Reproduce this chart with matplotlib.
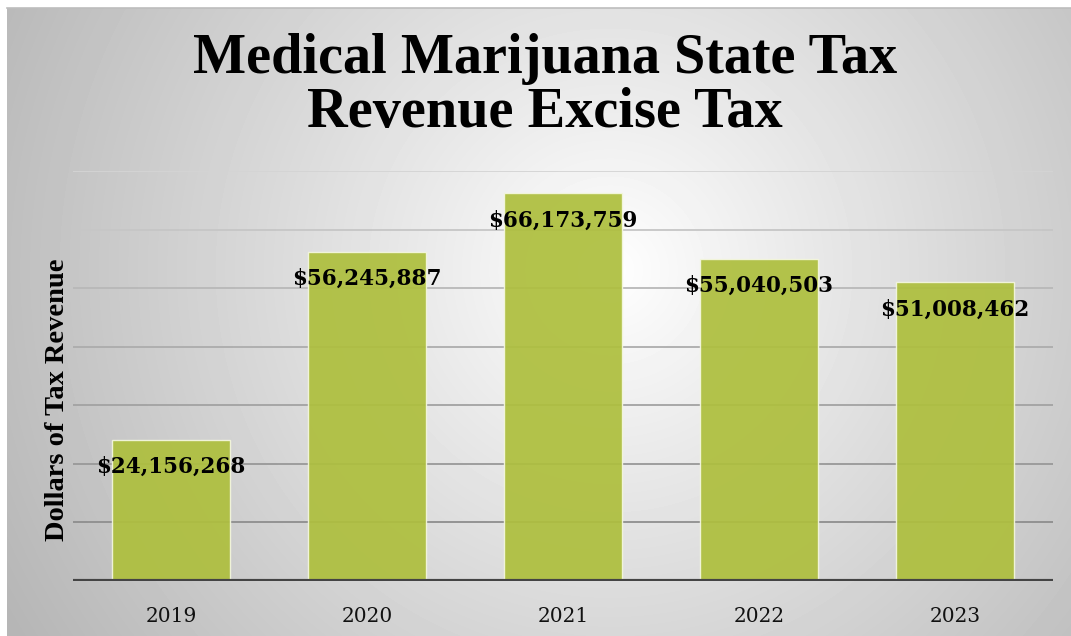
import numpy as np
import matplotlib
matplotlib.use("Agg")
import matplotlib.pyplot as plt

years = ["2019", "2020", "2021", "2022", "2023"]
revenue = [24156268, 56245887, 66173759, 55040503, 51008462]
grid_values = [10e6, 20e6, 30e6, 40e6, 50e6, 60e6, 70e6]

W, H = 1071, 636
fig = plt.figure(figsize=(W / 100, H / 100), dpi=100)
fig.patch.set_facecolor("white")

# radial grey-to-white backdrop behind the whole chart
bg_left, bg_top = 7, 8
bg = fig.add_axes([bg_left / W, 0, 1 - bg_left / W, 1 - bg_top / H], zorder=0)
xx, yy = np.meshgrid(np.arange(bg_left, W), np.arange(bg_top, H))
cx, cy = 610, 270
d = np.hypot(xx - cx, yy - cy) / 600
shade = 1.0 - 0.25 * np.clip(d, 0, 1.15) ** 0.95
bg.imshow(shade, cmap="gray", vmin=0, vmax=1, aspect="auto",
          extent=(0, 1, 0, 1), interpolation="bilinear")
bg.axis("off")
fig.add_artist(plt.Line2D([bg_left / W, 1], [1 - bg_top / H] * 2,
                          color="#bdbdbd", lw=1.2, transform=fig.transFigure))

ax = fig.add_axes([73 / W, 1 - 581 / H, (1053 - 73) / W, (581 - 171) / H], zorder=2)
ax.set_facecolor("none")
ax.set_xlim(-0.5, len(years) - 0.5)
ax.set_ylim(0, 70e6)

grid_cols = ["#8e8e8e", "#989898", "#a2a2a2", "#acacac", "#b8b8b8", "#c6c6c6", "#d4d4d4"]
for g, c in zip(grid_values, grid_cols):
    ax.axhline(g, color=c, lw=1.3, zorder=1)

x = np.arange(len(years))
ax.bar(x, revenue, width=0.607, color="#aebf3e", alpha=0.93,
       edgecolor="#f4f7df", linewidth=1.0, zorder=2)
ax.axhline(0, color="#444444", lw=3.0, zorder=3, solid_capstyle="butt")

for xi, v in zip(x, revenue):
    ax.annotate(f"${v:,.0f}", xy=(xi, v), xytext=(0, -19.5), textcoords="offset points",
                ha="center", va="center", fontsize=15.5, fontweight="bold",
                family="DejaVu Serif", color="black", zorder=4)

ax.set_xticks(x)
ax.set_xticklabels(years, family="DejaVu Serif", fontsize=14.5, color="#111111")
ax.tick_params(axis="x", length=0, pad=19)
ax.set_yticks([])
for s in ax.spines.values():
    s.set_visible(False)

fig.text(58 / W, 1 - 400 / H, "Dollars of Tax Revenue", rotation=90,
         ha="center", va="center", family="Liberation Serif", fontweight="bold",
         fontsize=20.5, color="black")

fig.text(545 / W, 1 - 86 / H, "Medical Marijuana State Tax\nRevenue Excise Tax",
         ha="center", va="center", family="Liberation Serif", fontweight="bold",
         fontsize=40.5, linespacing=1.06, color="black")

fig.savefig("out.png", dpi=100, facecolor="white")
